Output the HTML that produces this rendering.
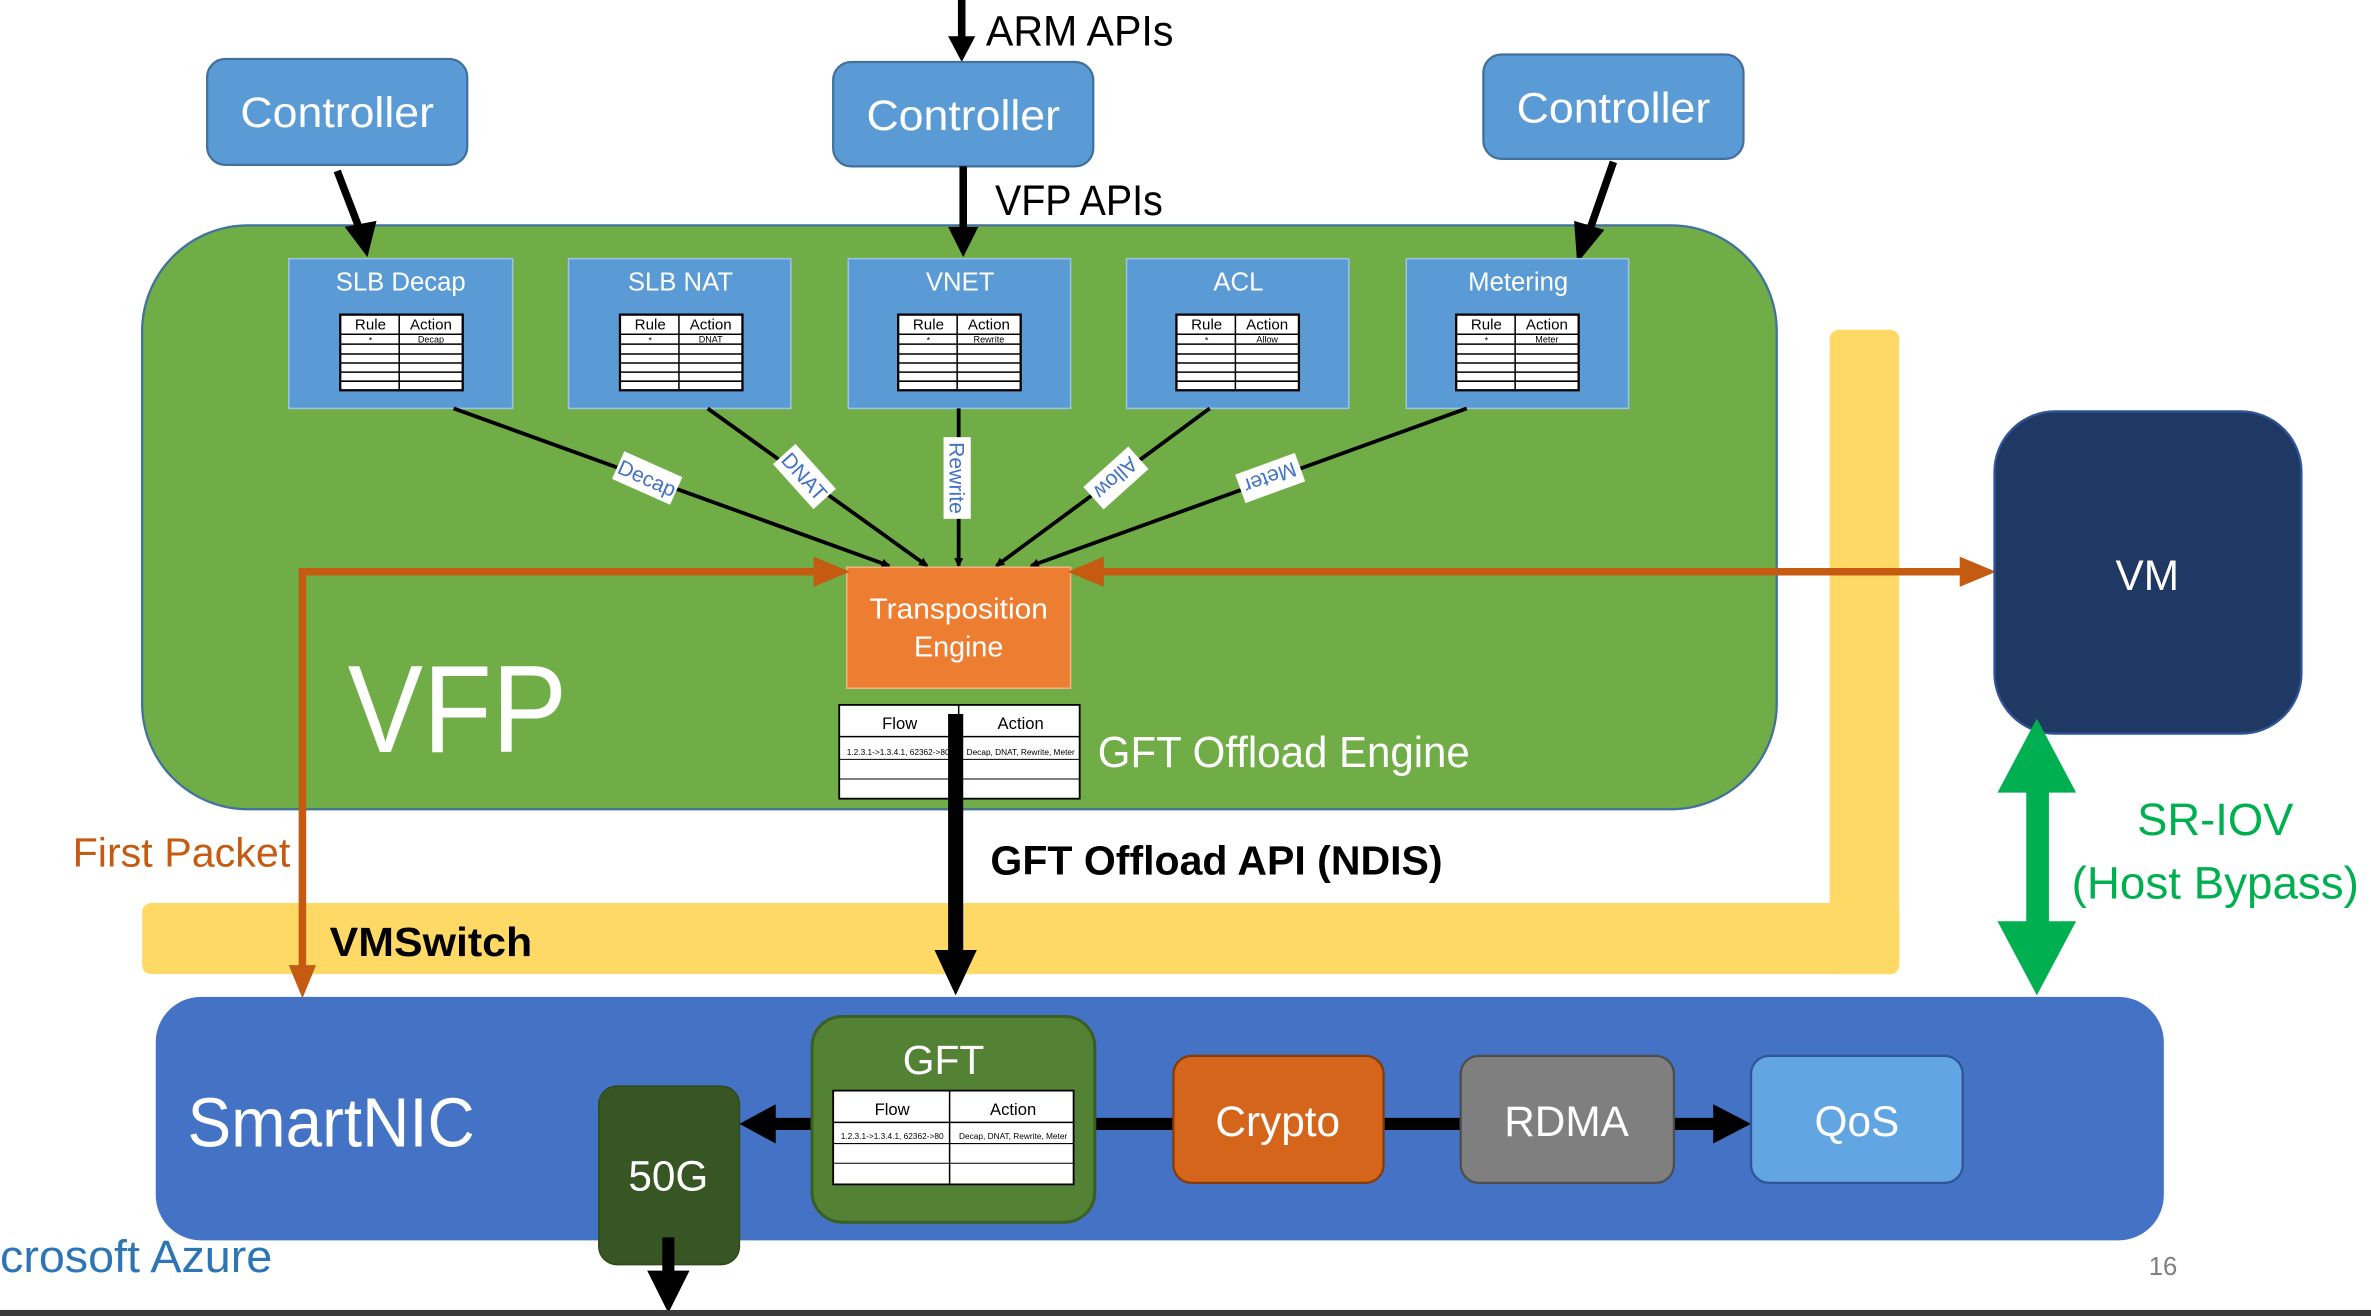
<!DOCTYPE html>
<html><head><meta charset="utf-8"><style>
html,body{margin:0;padding:0;background:#fff;width:2371px;height:1316px;overflow:hidden}
svg{display:block}
text{font-family:"Liberation Sans",sans-serif}
</style></head><body>
<svg width="2371" height="1316" viewBox="0 0 1568 870" preserveAspectRatio="none" xmlns="http://www.w3.org/2000/svg">
<defs>
<marker id="ab" markerWidth="6" markerHeight="6" refX="5" refY="3" orient="auto" markerUnits="userSpaceOnUse"><path d="M0,0 L6,3 L0,6 z" fill="#000"/></marker>
<g id="tbl">
<rect x="0" y="0" width="81" height="50" fill="#fff" stroke="#000" stroke-width="1.5"/>
<line x1="39" y1="0" x2="39" y2="50" stroke="#000" stroke-width="1"/>
<g stroke="#000" stroke-width="1"><line x1="0" y1="13" x2="81" y2="13"/><line x1="0" y1="19.5" x2="81" y2="19.5"/><line x1="0" y1="26" x2="81" y2="26"/><line x1="0" y1="32" x2="81" y2="32"/><line x1="0" y1="38" x2="81" y2="38"/><line x1="0" y1="44" x2="81" y2="44"/></g>
</g>
</defs>

<line x1="636" y1="0" x2="636" y2="26" stroke="#000" stroke-width="5"/>
<path d="M627,24 L645,24 L636,41 z" fill="#000"/>
<text x="652" y="30" font-size="28" fill="#000" textLength="124" lengthAdjust="spacingAndGlyphs">ARM APIs</text>

<rect x="137" y="39" width="172" height="70" rx="12" fill="#5B9BD5" stroke="#41719C" stroke-width="1.5"/>
<text x="223" y="84" font-size="28" fill="#fff" text-anchor="middle" textLength="128" lengthAdjust="spacingAndGlyphs">Controller</text>
<rect x="551" y="41" width="172" height="69" rx="12" fill="#5B9BD5" stroke="#41719C" stroke-width="1.5"/>
<text x="637" y="86" font-size="28" fill="#fff" text-anchor="middle" textLength="128" lengthAdjust="spacingAndGlyphs">Controller</text>
<rect x="981" y="36" width="172" height="69" rx="12" fill="#5B9BD5" stroke="#41719C" stroke-width="1.5"/>
<text x="1067" y="81" font-size="28" fill="#fff" text-anchor="middle" textLength="128" lengthAdjust="spacingAndGlyphs">Controller</text>

<rect x="1210" y="218" width="46" height="426" rx="6" fill="#FFD966"/>
<rect x="94" y="597" width="1162" height="47" rx="6" fill="#FFD966"/>

<rect x="94" y="149" width="1081" height="386" rx="70" fill="#70AD47" stroke="#41719C" stroke-width="1.5"/>

<line x1="223" y1="113" x2="238" y2="152" stroke="#000" stroke-width="5"/>
<path d="M228,150 L249,146 L243,170 z" fill="#000"/>
<line x1="637" y1="110" x2="637" y2="152" stroke="#000" stroke-width="5"/>
<path d="M627,150 L647,150 L637,170 z" fill="#000"/>
<line x1="1067" y1="107" x2="1052" y2="150" stroke="#000" stroke-width="5"/>
<path d="M1041,146 L1061,152 L1043,174 z" fill="#000"/>
<text x="658" y="142" font-size="28" fill="#000" textLength="111" lengthAdjust="spacingAndGlyphs">VFP APIs</text>

<g font-size="17" fill="#fff" text-anchor="middle">
<rect x="191" y="171" width="148" height="99" fill="#5B9BD5" stroke="#9DC3E6"/>
<text x="265" y="192">SLB Decap</text>
<rect x="376" y="171" width="147" height="99" fill="#5B9BD5" stroke="#9DC3E6"/>
<text x="450" y="192">SLB NAT</text>
<rect x="561" y="171" width="147" height="99" fill="#5B9BD5" stroke="#9DC3E6"/>
<text x="635" y="192">VNET</text>
<rect x="745" y="171" width="147" height="99" fill="#5B9BD5" stroke="#9DC3E6"/>
<text x="819" y="192">ACL</text>
<rect x="930" y="171" width="147" height="99" fill="#5B9BD5" stroke="#9DC3E6"/>
<text x="1004" y="192">Metering</text>
</g>
<g font-size="10" fill="#000" text-anchor="middle">
<g transform="translate(225,208)"><use href="#tbl"/><text x="20" y="10">Rule</text><text x="60" y="10">Action</text><text x="20" y="19" font-size="6">*</text><text x="60" y="18.5" font-size="6">Decap</text></g>
<g transform="translate(410,208)"><use href="#tbl"/><text x="20" y="10">Rule</text><text x="60" y="10">Action</text><text x="20" y="19" font-size="6">*</text><text x="60" y="18.5" font-size="6">DNAT</text></g>
<g transform="translate(594,208)"><use href="#tbl"/><text x="20" y="10">Rule</text><text x="60" y="10">Action</text><text x="20" y="19" font-size="6">*</text><text x="60" y="18.5" font-size="6">Rewrite</text></g>
<g transform="translate(778,208)"><use href="#tbl"/><text x="20" y="10">Rule</text><text x="60" y="10">Action</text><text x="20" y="19" font-size="6">*</text><text x="60" y="18.5" font-size="6">Allow</text></g>
<g transform="translate(963,208)"><use href="#tbl"/><text x="20" y="10">Rule</text><text x="60" y="10">Action</text><text x="20" y="19" font-size="6">*</text><text x="60" y="18.5" font-size="6">Meter</text></g>
</g>

<g stroke="#000" stroke-width="2.5" fill="none" marker-end="url(#ab)">
<line x1="300" y1="270" x2="588" y2="374"/>
<line x1="468" y1="270" x2="613" y2="374"/>
<line x1="634" y1="270" x2="634" y2="374"/>
<line x1="800" y1="270" x2="659" y2="374"/>
<line x1="970" y1="270" x2="682" y2="374"/>
</g>
<g font-size="14" fill="#4472C4" text-anchor="middle">
<g transform="translate(428,316) rotate(24)"><rect x="-21" y="-10" width="42" height="20" fill="#fff"/><text y="5">Decap</text></g>
<g transform="translate(532,315) rotate(48)"><rect x="-20" y="-10" width="40" height="20" fill="#fff"/><text y="5">DNAT</text></g>
<g transform="translate(633,316) rotate(90)"><rect x="-27" y="-9" width="54" height="18" fill="#fff"/><text y="5">Rewrite</text></g>
<g transform="translate(738,316) rotate(138)"><rect x="-20" y="-10" width="40" height="20" fill="#fff"/><text y="5">Allow</text></g>
<g transform="translate(840,316) rotate(160)"><rect x="-21" y="-10" width="42" height="20" fill="#fff"/><text y="5">Meter</text></g>
</g>

<rect x="560" y="375" width="148" height="80" fill="#ED7D31" stroke="#F4B183"/>
<text x="634" y="409" font-size="19" fill="#fff" text-anchor="middle" textLength="118" lengthAdjust="spacingAndGlyphs">Transposition</text>
<text x="634" y="434" font-size="19" fill="#fff" text-anchor="middle">Engine</text>

<g stroke="#C55A11" stroke-width="5" fill="none">
<polyline points="200,640 200,378 540,378"/>
<line x1="728" y1="378" x2="1298" y2="378"/>
</g>
<g fill="#C55A11">
<path d="M538,368 L562,378 L538,388 z"/>
<path d="M730,368 L706,378 L730,388 z"/>
<path d="M1296,368 L1320,378 L1296,388 z"/>
<path d="M191,638 L209,638 L200,660 z"/>
</g>

<text x="230" y="497" font-size="82" fill="#fff" textLength="145" lengthAdjust="spacingAndGlyphs">VFP</text>

<rect x="555" y="466" width="159" height="62" fill="#fff" stroke="#000" stroke-width="1.2"/>
<line x1="634" y1="466" x2="634" y2="528" stroke="#000"/>
<line x1="555" y1="487" x2="714" y2="487" stroke="#000"/>
<line x1="555" y1="502" x2="714" y2="502" stroke="#000" stroke-width=".7"/>
<line x1="555" y1="515" x2="714" y2="515" stroke="#000" stroke-width=".7"/>
<text x="595" y="482" font-size="11" text-anchor="middle">Flow</text>
<text x="675" y="482" font-size="11" text-anchor="middle">Action</text>
<text x="594" y="499" font-size="5.5" text-anchor="middle">1.2.3.1-&gt;1.3.4.1, 62362-&gt;80</text>
<text x="675" y="499" font-size="5.5" text-anchor="middle">Decap, DNAT, Rewrite, Meter</text>
<text x="726" y="507" font-size="29" fill="#fff" textLength="246" lengthAdjust="spacingAndGlyphs">GFT Offload Engine</text>

<line x1="632" y1="472" x2="632" y2="632" stroke="#000" stroke-width="10"/>
<path d="M618,628 L646,628 L632,658 z" fill="#000"/>
<text x="655" y="578" font-size="27" font-weight="bold" fill="#000" textLength="299" lengthAdjust="spacingAndGlyphs">GFT Offload API (NDIS)</text>

<text x="48" y="573" font-size="27" fill="#C55A11" textLength="144" lengthAdjust="spacingAndGlyphs">First Packet</text>
<text x="218" y="632" font-size="27" font-weight="bold" fill="#000" textLength="134" lengthAdjust="spacingAndGlyphs">VMSwitch</text>

<rect x="1319" y="272" width="203" height="213" rx="40" fill="#203864" stroke="#2F5597" stroke-width="1.5"/>
<text x="1420" y="390" font-size="28" fill="#fff" text-anchor="middle">VM</text>

<rect x="103" y="659" width="1328" height="161" rx="30" fill="#4472C4"/>
<text x="124" y="758" font-size="46" fill="#fff" textLength="190" lengthAdjust="spacingAndGlyphs">SmartNIC</text>

<rect x="1340" y="520" width="15" height="95" fill="#00B050"/>
<path d="M1347,475 L1373,524 L1321,524 z" fill="#00B050"/>
<path d="M1347,658 L1373,609 L1321,609 z" fill="#00B050"/>
<text x="1465" y="552" font-size="30" fill="#00B050" text-anchor="middle">SR-IOV</text>
<text x="1465" y="594" font-size="30" fill="#00B050" text-anchor="middle" textLength="190" lengthAdjust="spacingAndGlyphs">(Host Bypass)</text>

<line x1="720" y1="743" x2="980" y2="743" stroke="#000" stroke-width="8"/>
<line x1="1100" y1="743" x2="1140" y2="743" stroke="#000" stroke-width="8"/>
<path d="M1133,730 L1158,743 L1133,756 z" fill="#000"/>
<line x1="510" y1="743" x2="540" y2="743" stroke="#000" stroke-width="8"/>
<path d="M513,730 L489,743 L513,756 z" fill="#000"/>

<rect x="396" y="718" width="93" height="118" rx="12" fill="#375623" stroke="#2E4A1E"/>
<text x="442" y="787" font-size="28" fill="#fff" text-anchor="middle">50G</text>
<line x1="442" y1="818" x2="442" y2="845" stroke="#000" stroke-width="8"/>
<path d="M428,840 L456,840 L442,868 z" fill="#000"/>

<rect x="537" y="672" width="187" height="136" rx="20" fill="#548235" stroke="#3B5E25" stroke-width="2"/>
<text x="624" y="710" font-size="27" fill="#fff" text-anchor="middle">GFT</text>
<rect x="551" y="721" width="159" height="62" fill="#fff" stroke="#000" stroke-width="1.2"/>
<line x1="628" y1="721" x2="628" y2="783" stroke="#000"/>
<line x1="551" y1="742" x2="710" y2="742" stroke="#000"/>
<line x1="551" y1="756" x2="710" y2="756" stroke="#000" stroke-width=".7"/>
<line x1="551" y1="769" x2="710" y2="769" stroke="#000" stroke-width=".7"/>
<text x="590" y="737" font-size="11" text-anchor="middle">Flow</text>
<text x="670" y="737" font-size="11" text-anchor="middle">Action</text>
<text x="590" y="753" font-size="5.5" text-anchor="middle">1.2.3.1-&gt;1.3.4.1, 62362-&gt;80</text>
<text x="670" y="753" font-size="5.5" text-anchor="middle">Decap, DNAT, Rewrite, Meter</text>

<rect x="776" y="698" width="139" height="84" rx="12" fill="#D5651A" stroke="#843C0C" stroke-width="1.5"/>
<text x="845" y="751" font-size="28" fill="#fff" text-anchor="middle">Crypto</text>
<rect x="966" y="698" width="141" height="84" rx="12" fill="#7F7F7F" stroke="#4D4D4D" stroke-width="1.5"/>
<text x="1036" y="751" font-size="28" fill="#fff" text-anchor="middle">RDMA</text>
<rect x="1158" y="698" width="140" height="84" rx="12" fill="#62A5E3" stroke="#2F5597" stroke-width="1.5"/>
<text x="1228" y="751" font-size="28" fill="#fff" text-anchor="middle">QoS</text>

<text x="0" y="841" font-size="30" fill="#2E75B6" textLength="180" lengthAdjust="spacingAndGlyphs">crosoft Azure</text>
<text x="1421" y="843" font-size="17" fill="#7F7F7F">16</text>
<rect x="0" y="866" width="1568" height="4" fill="#3a3a3a"/>
</svg>
</body></html>
